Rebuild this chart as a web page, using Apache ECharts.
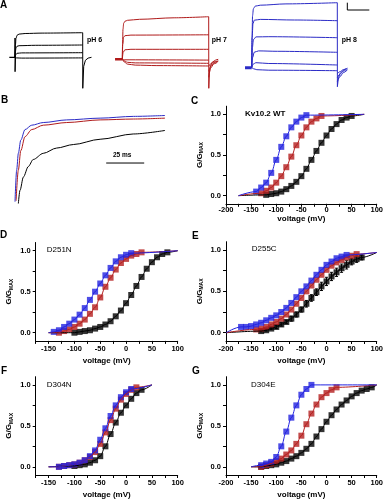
<!DOCTYPE html>
<html><head><meta charset="utf-8">
<script src="https://cdn.jsdelivr.net/npm/echarts@6/dist/echarts.min.js"></script>
<style>html,body{margin:0;padding:0;background:#fff}#c{width:386px;height:500px}</style>
</head><body><div id="c"></div>
<script>
const FONT = '"Liberation Sans", Arial, sans-serif';
const BLUE = '#2222e0', RED = '#b41e1e', BLACK = '#000000';
const TRED = '#b01a1a', TBLUE = '#2b2bc6';

// ---------- Panel A: current traces (t in ms, current in arbitrary units) ----------
const a6Hold = [[-8.4,0],[0,0]];
const a6Onset = [[0,0],[0.05,19.3],[0.1,-14.4],[0.8,0]];
const a6Traces = [
  [[0,0],[0.6,12],[1.5,19],[3,22],[6,23.2],[15,23.8],[40,24.2],[100,24.6]],
  [[0,0],[0.6,6],[1.5,9.5],[3,11],[6,11.6],[30,12],[100,12.3]],
  [[0,0],[1,2.5],[3,4],[10,4.4],[100,4.6]],
  [[0,0],[2,-0.6],[10,-0.8],[100,-0.6]]
];
const a6Tail = [[100,24.6],[100.1,-31],[101.5,-9],[104,-3],[108,-0.8],[113,0]];

const a7Hold = [[-8.4,0],[0,0]];
const a7Traces = [
  [[0,0],[0.3,15],[0.8,30],[1.6,36],[3,38],[6,39],[20,40],[60,41.5],[100,42.6]],
  [[0,0],[0.5,15],[1.5,22],[3,23.6],[10,24.2],[100,24.5]],
  [[0,0],[1,7],[3,9.5],[10,10],[100,10]],
  [[0,0],[3,-0.5],[100,-0.8]],
  [[0,0],[2,-1.5],[6,-3],[15,-3.6],[100,-4]],
  [[0,0],[2,-2.5],[6,-4.8],[15,-5.8],[40,-6.3],[100,-6.7]]
];
const a7Tail = [[100,42.6],[100.1,-29],[100.8,-14],[102,-7],[104,-3],[108,-0.8],[111,0]];
const a7Curls = [
  [[100,-7],[103,-4],[107,-2.5],[111,-1.5]],
  [[100,-12],[103,-6],[107,-3],[111,-2]],
  [[100,-18],[102,-9],[106,-4.5],[110,-3]]
];

const a8Hold = [[-7.8,0],[0,0]];
const a8Traces = [
  [[0,0],[0.4,30],[1,52],[2,59],[4,61.5],[10,62.5],[40,63.8],[100,65]],
  [[0,0],[0.5,30],[1.5,44],[3,47.5],[10,48.3],[50,47.7],[100,47]],
  [[0,0],[0.8,20],[2,28],[5,30.8],[20,31],[100,30]],
  [[0,0],[1,10],[3,15.5],[8,16.8],[30,16.4],[100,15.4]],
  [[0,0],[1.5,3.5],[5,5],[20,4.2],[100,2.7]],
  [[0,0],[2,-1],[6,-2],[20,-2.5],[100,-3]]
];
const a8Tail = [[100,65],[100.1,-19],[101,-12],[103,-6],[107,-2.5],[112,-0.5]];
const a8Curls = [
  [[100,-14],[103,-9],[107,-5],[112,-2]],
  [[100,-10],[103,-6.5],[107,-3.5],[111,-1.5]],
  [[100,-6],[103,-4],[107,-2],[110,-1]]
];
const aScaleBar = [[111.7,65],[111.7,57.7],[137.4,57.7]];

// ---------- Panel B: normalized traces (t in ms) ----------
const bBlue = [[0,0.02],[1.1,0.38],[2.2,0.57],[3.8,0.72],[6.6,0.84],[11,0.89],[18.6,0.92],[34,0.95],[56,0.97],[78,0.99],[98.7,1.0]];
const bRed = [[0.7,0.03],[2.2,0.38],[3.8,0.6],[6.6,0.76],[11,0.84],[18.6,0.89],[34,0.92],[56,0.95],[78,0.96],[98.7,0.97]];
const bBlack = [[2.2,0.0],[3.3,0.15],[5.5,0.3],[8.75,0.42],[12,0.5],[18.6,0.57],[27.4,0.63],[38.4,0.67],[56,0.73],[77.8,0.79],[98.7,0.83]];
const bScaleBar = [[60,0.46],[85,0.46]];

// ---------- G/Gmax vs voltage ----------
// C: Kv10.2 WT
const cBlueV = [-140,-130,-120,-110,-100,-90,-80,-70,-60,-50,-40];
const cBlueG = [0.05,0.1,0.16,0.28,0.44,0.6,0.73,0.84,0.91,0.96,0.99];
const cRedV = [-130,-120,-110,-100,-90,-80,-70,-60,-50,-40,-30,-20,-10];
const cRedG = [0.03,0.06,0.1,0.16,0.24,0.35,0.48,0.62,0.74,0.84,0.91,0.95,0.98];
const cBlackV = [-120,-110,-100,-90,-80,-70,-60,-50,-40,-30,-20,-10,0,10,20,30,40,50];
const cBlackG = [0.01,0.02,0.03,0.05,0.08,0.12,0.17,0.24,0.33,0.44,0.55,0.65,0.74,0.82,0.88,0.93,0.96,0.98];
const cFitEnds = [[-175,0],[75,1.0]];

// D: D251N
const dBlueV = [-140,-130,-120,-110,-100,-90,-80,-70,-60,-50,-40,-30,-20,-10,0,10];
const dBlueG = [0.01,0.03,0.07,0.11,0.16,0.22,0.3,0.4,0.5,0.6,0.7,0.79,0.87,0.92,0.95,0.97];
const dRedV = [-130,-120,-110,-100,-90,-80,-70,-60,-50,-40,-30,-20,-10,0,10,20,30];
const dRedG = [0.0,0.02,0.04,0.07,0.11,0.16,0.23,0.31,0.43,0.56,0.67,0.77,0.85,0.9,0.94,0.96,0.98];
const dBlackV = [-100,-90,-80,-70,-60,-50,-40,-30,-20,-10,0,10,20,30,40,50,60,70,80];
const dBlackG = [0.0,0.01,0.02,0.03,0.05,0.07,0.1,0.14,0.2,0.27,0.36,0.46,0.57,0.68,0.78,0.86,0.92,0.96,0.98];
const dFitEnds = [[-150,0],[100,1.0]];

// E: D255C
const eBlueV = [-170,-160,-150,-140,-130,-120,-110,-100,-90,-80,-70,-60,-50,-40,-30,-20,-10,0,10,20,30,40];
const eBlueG = [0.07,0.07,0.08,0.1,0.12,0.15,0.18,0.21,0.25,0.3,0.36,0.43,0.5,0.56,0.63,0.7,0.76,0.82,0.86,0.9,0.92,0.94];
const eRedV = [-140,-130,-120,-110,-100,-90,-80,-70,-60,-50,-40,-30,-20,-10,0,10,20,30,40,50,60];
const eRedG = [0.04,0.05,0.07,0.1,0.13,0.17,0.22,0.28,0.35,0.42,0.5,0.57,0.64,0.7,0.76,0.81,0.85,0.88,0.91,0.93,0.95];
const eBlackV = [-130,-120,-110,-100,-90,-80,-70,-60,-50,-40,-30,-20,-10,0,10,20,30,40,50,60,70];
const eBlackG = [0.02,0.03,0.05,0.07,0.1,0.13,0.17,0.22,0.28,0.35,0.42,0.49,0.56,0.62,0.68,0.73,0.78,0.82,0.86,0.89,0.91];
const eBlackErr = [0.01,0.01,0.01,0.02,0.02,0.02,0.03,0.03,0.03,0.04,0.04,0.04,0.05,0.05,0.05,0.05,0.05,0.05,0.04,0.04,0.03];
const eFitEnds = [[-200,0],[100,0.97]];

// F: D304N
const fBlueV = [-130,-120,-110,-100,-90,-80,-70,-60,-50,-40,-30,-20,-10,0,10];
const fBlueG = [0.0,0.01,0.02,0.03,0.05,0.08,0.13,0.2,0.33,0.47,0.62,0.75,0.85,0.91,0.95];
const fRedV = [-130,-120,-110,-100,-90,-80,-70,-60,-50,-40,-30,-20,-10,0,10,20];
const fRedG = [0.0,0.01,0.02,0.03,0.05,0.08,0.12,0.18,0.28,0.42,0.57,0.71,0.82,0.89,0.94,0.97];
const fBlackV = [-100,-90,-80,-70,-60,-50,-40,-30,-20,-10,0,10,20,30];
const fBlackG = [0.01,0.02,0.03,0.05,0.08,0.13,0.25,0.4,0.54,0.66,0.75,0.83,0.9,0.94];
const fFitEnds = [[-150,0],[50,1.0]];

// G: D304E
const gBlueV = [-130,-120,-110,-100,-90,-80,-70,-60,-50,-40,-30];
const gBlueG = [0.02,0.04,0.06,0.12,0.25,0.43,0.6,0.75,0.88,0.95,1.0];
const gRedV = [-130,-120,-110,-100,-90,-80,-70,-60,-50,-40,-30,-20,-10,0,10,20];
const gRedG = [0.0,0.02,0.04,0.07,0.1,0.15,0.2,0.28,0.38,0.52,0.65,0.76,0.85,0.9,0.94,0.97];
const gBlackV = [-130,-120,-110,-100,-90,-80,-70,-60,-50,-40,-30,-20,-10,0,10,20,30,40,50,60,70,80,90];
const gBlackG = [0.0,0.01,0.02,0.03,0.05,0.07,0.1,0.13,0.17,0.22,0.28,0.37,0.46,0.55,0.63,0.7,0.76,0.81,0.86,0.9,0.93,0.95,0.97];
const gFitEnds = [[-150,0],[100,1.0]];

// tick values
const xLabelsWide = [-200,-150,-100,-50,0,50,100];
const xTicksWide = [-200,-175,-150,-125,-100,-75,-50,-25,0,25,50,75,100];
const xLabelsNarrow = [-150,-100,-50,0,50,100];
const xTicksNarrow = [-175,-150,-125,-100,-75,-50,-25,0,25,50,75,100];
const yLabels = [0,0.5,1.0];
const yTicks = [0,0.25,0.5,0.75,1.0];

// ---------- build ----------
const grids = [
  {left:5, top:15, width:95, height:77},
  {left:110, top:10, width:120, height:82},
  {left:240, top:0, width:140, height:92},
  {left:15, top:115.5, width:152, height:88},
  {left:226, top:106.2, width:154, height:97.6},
  {left:35.7, top:242.5, width:142, height:98.4},
  {left:226, top:241.7, width:153, height:99.3},
  {left:35.7, top:376.7, width:142, height:99.3},
  {left:226, top:376.7, width:153, height:99.3}
];
const hiddenRanges = [
  [-14.77,125.55,-34.7,42.3],
  [-14.24,124.65,-32.7,49.3],
  [-13.67,149.88,-24.3,67.7],
  [0,100,0,1]
];
const xAxes = [], yAxes = [];
hiddenRanges.forEach((r,i)=>{
  xAxes.push({gridIndex:i,type:'value',min:r[0],max:r[1],show:false});
  yAxes.push({gridIndex:i,type:'value',min:r[2],max:r[3],show:false});
});
const txt = {color:'#000', fontFamily:FONT, fontWeight:'bold'};
function panelAxes(gi, xmin, xLabels, xTicks, nameGapX, labelMarginX, nameGapY){
  xAxes.push({gridIndex:gi,type:'value',min:xmin,max:100,
    axisLine:{show:true,onZero:false,lineStyle:{color:'#000',width:1}},
    axisTick:{show:true,inside:false,length:3,customValues:xTicks,lineStyle:{color:'#000'}},
    axisLabel:Object.assign({customValues:xLabels,fontSize:7.5,margin:labelMarginX},txt),
    splitLine:{show:false},
    name:'voltage (mV)',nameLocation:'middle',nameGap:nameGapX,
    nameTextStyle:Object.assign({fontSize:8},txt)});
  yAxes.push({gridIndex:gi,type:'value',min:-0.1,max:1.1,
    axisLine:{show:true,onZero:false,lineStyle:{color:'#000',width:1}},
    axisTick:{show:true,inside:false,length:3,customValues:yTicks,lineStyle:{color:'#000'}},
    axisLabel:Object.assign({customValues:yLabels,fontSize:7.5,margin:5,formatter:v=>v.toFixed(1)},txt),
    splitLine:{show:false},
    name:'{a|G/G}{b|MAX}',nameLocation:'middle',nameRotate:90,nameGap:nameGapY,
    nameTextStyle:Object.assign({fontSize:8,rich:{
      a:Object.assign({fontSize:8},txt),
      b:Object.assign({fontSize:5,padding:[4,0,0,0]},txt)}},txt)});
}
panelAxes(4,-200,xLabelsWide,xTicksWide,8,2,22);
panelAxes(5,-175,xLabelsNarrow,xTicksNarrow,16,4,22);
panelAxes(6,-200,xLabelsWide,xTicksWide,16,4,22);
panelAxes(7,-175,xLabelsNarrow,xTicksNarrow,16,4,22);
panelAxes(8,-200,xLabelsWide,xTicksWide,16,4,22);

const series = [];
function trace(gi, data, color, width, smooth){
  series.push({type:'line',xAxisIndex:gi,yAxisIndex:gi,data:data,showSymbol:false,symbol:'none',
    smooth:smooth?0.3:false,smoothMonotone:'x',clip:false,silent:true,
    lineStyle:{color:color,width:width}});
}
// A
trace(0,a6Hold,BLACK,1.2,false);
trace(0,a6Onset,BLACK,1,false);
a6Traces.forEach(t=>trace(0,t,BLACK,1,true));
trace(0,a6Tail,BLACK,1,false);
trace(1,a7Hold,TRED,2.4,false);
a7Traces.forEach(t=>trace(1,t,TRED,1,true));
trace(1,a7Tail,TRED,1,false);
a7Curls.forEach(t=>trace(1,t,TRED,1,true));
trace(2,a8Hold,TBLUE,3,false);
a8Traces.forEach(t=>trace(2,t,TBLUE,1,true));
trace(2,a8Tail,TBLUE,1,false);
a8Curls.forEach(t=>trace(2,t,TBLUE,1,true));
trace(2,aScaleBar,BLACK,1,false);
// B
trace(3,bBlack,BLACK,1,true);
trace(3,bRed,TRED,1,true);
trace(3,bBlue,TBLUE,1,true);
trace(3,bScaleBar,BLACK,1,false);

function pairs(V,G){return V.map((v,i)=>[v,G[i]]);}
function gvSet(gi, V, G, color, ends){
  series.push({type:'scatter',xAxisIndex:gi,yAxisIndex:gi,data:pairs(V,G),symbol:'rect',symbolSize:6,
    itemStyle:{color:color},z:3,silent:true});
  const fit = [ends[0]].concat(pairs(V,G)).concat([ends[1]]);
  series.push({type:'line',xAxisIndex:gi,yAxisIndex:gi,data:fit,showSymbol:false,symbol:'none',
    smooth:0.35,smoothMonotone:'x',silent:true,lineStyle:{color:color,width:1},z:4});
}
gvSet(4,cBlackV,cBlackG,BLACK,cFitEnds);
gvSet(4,cRedV,cRedG,RED,cFitEnds);
gvSet(4,cBlueV,cBlueG,BLUE,cFitEnds);
gvSet(5,dBlackV,dBlackG,BLACK,dFitEnds);
gvSet(5,dRedV,dRedG,RED,dFitEnds);
gvSet(5,dBlueV,dBlueG,BLUE,dFitEnds);
// E error bars
series.push({type:'custom',xAxisIndex:6,yAxisIndex:6,silent:true,z:2,
  data:eBlackV.map((v,i)=>[v,eBlackG[i],eBlackErr[i]]),
  renderItem:(params,api)=>{
    const x=api.value(0), y=api.value(1), e=api.value(2);
    const p1=api.coord([x,y+e]), p2=api.coord([x,y-e]);
    const st={stroke:'#000',lineWidth:1};
    return {type:'group',children:[
      {type:'line',shape:{x1:p1[0],y1:p1[1],x2:p2[0],y2:p2[1]},style:st},
      {type:'line',shape:{x1:p1[0]-1.5,y1:p1[1],x2:p1[0]+1.5,y2:p1[1]},style:st},
      {type:'line',shape:{x1:p2[0]-1.5,y1:p2[1],x2:p2[0]+1.5,y2:p2[1]},style:st}]};
  }});
gvSet(6,eBlackV,eBlackG,BLACK,eFitEnds);
gvSet(6,eRedV,eRedG,RED,eFitEnds);
gvSet(6,eBlueV,eBlueG,BLUE,eFitEnds);
gvSet(7,fBlackV,fBlackG,BLACK,fFitEnds);
gvSet(7,fRedV,fRedG,RED,fFitEnds);
gvSet(7,fBlueV,fBlueG,BLUE,fFitEnds);
gvSet(8,gBlackV,gBlackG,BLACK,gFitEnds);
gvSet(8,gRedV,gRedG,RED,gFitEnds);
gvSet(8,gBlueV,gBlueG,BLUE,gFitEnds);

function label(text,x,y,size,weight){
  return {type:'text',x:x,y:y,silent:true,style:{text:text,fill:'#000',fontFamily:FONT,fontSize:size,
    fontWeight:weight||'bold',verticalAlign:'middle',align:'left'}};
}
const graphic = [
  label('A',0,5,10), label('B',1,100.5,10), label('C',191,101.5,10),
  label('D',0,235.5,10), label('E',192,236.5,10), label('F',1,371.5,10), label('G',192,371.5,10),
  label('pH 6',87,40,7), label('pH 7',211.7,40,7), label('pH 8',341.7,40,7),
  label('25 ms',113,155.7,6.5),
  label('Kv10.2 WT',245,113.3,8), label('D251N',46.7,250,8,'normal'),
  label('D255C',251.7,249,8,'normal'), label('D304N',46.7,385,8,'normal'),
  label('D304E',251,385,8,'normal')
];

const chart = echarts.init(document.getElementById('c'),null,{renderer:'canvas'});
chart.setOption({animation:false,backgroundColor:'#fff',grid:grids,xAxis:xAxes,yAxis:yAxes,series:series,graphic:graphic});
</script></body></html>
